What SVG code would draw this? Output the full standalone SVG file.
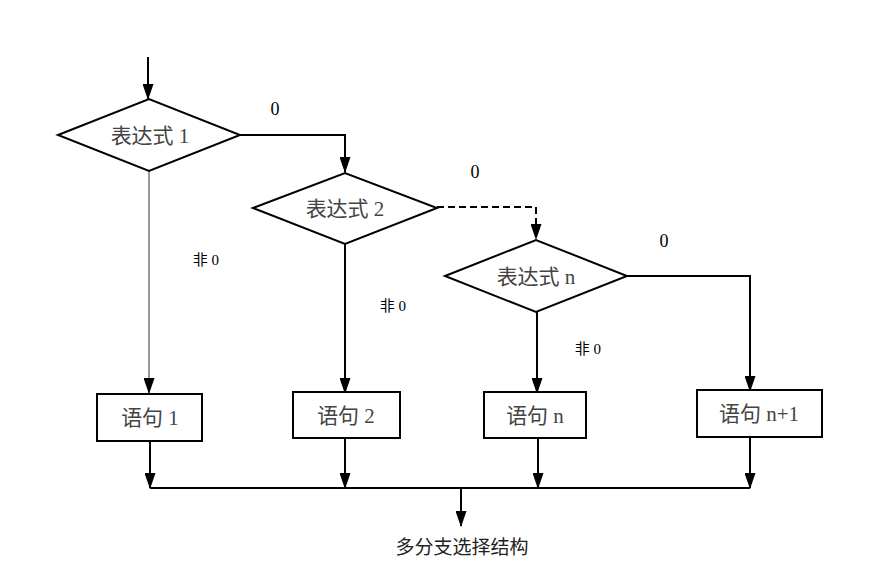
<svg xmlns="http://www.w3.org/2000/svg" width="896" height="569" viewBox="0 0 896 569">
<defs>
<marker id="ar" markerWidth="16" markerHeight="11" refX="15" refY="5.5" orient="auto" markerUnits="userSpaceOnUse">
<path d="M0,0 L16,5.5 L0,11 Z" fill="#000"/>
</marker>
<style>
.shape{fill:#fff;stroke:#000;stroke-width:2}
.ln{fill:none;stroke:#000;stroke-width:2;marker-end:url(#ar)}
.lnp{fill:none;stroke:#000;stroke-width:2}
.t{font-family:"Liberation Serif","Noto Sans CJK SC",serif;font-size:21px;fill:#444;text-anchor:middle}
.lb{font-family:"Liberation Serif","Noto Sans CJK SC",serif;font-size:18px;fill:#000;text-anchor:middle}
.lf{font-family:"Liberation Serif","Noto Sans CJK SC",serif;font-size:15px;fill:#000;text-anchor:middle}
</style>
</defs>
<rect width="896" height="569" fill="#fff"/>
<g id="connectors">
<path class="ln" d="M148,57 V99"/>
<path class="ln" d="M240,135 H345 V172"/>
<path class="ln" d="M437,207 H536 V239" stroke-dasharray="7,4"/>
<path class="ln" d="M627,276 H750 V391"/>
<path class="ln" d="M149,171 V393" style="stroke:#999"/>
<path class="ln" d="M345,244 V393"/>
<path class="ln" d="M537,312 V393"/>
<path class="ln" d="M150,441 V488"/>
<path class="ln" d="M345,438 V488"/>
<path class="ln" d="M538,438 V488"/>
<path class="ln" d="M750,437 V488"/>
<path class="lnp" d="M150,488 H750"/>
<path class="ln" d="M461,488 V526"/>
</g>
<g id="d1"><polygon class="shape" points="58,135 149,99 240,135 149,171"/><text class="t" x="150" y="143">表达式 1</text></g>
<g id="d2"><polygon class="shape" points="253,208 345,173 437,208 345,244"/><text class="t" x="345" y="216">表达式 2</text></g>
<g id="dn"><polygon class="shape" points="445,276 536,240 627,276 536,312"/><text class="t" x="536" y="284">表达式 n</text></g>
<g id="s1"><rect class="shape" x="97" y="394" width="105" height="47"/><text class="t" x="150" y="425">语句 1</text></g>
<g id="s2"><rect class="shape" x="293" y="392" width="107" height="46"/><text class="t" x="346" y="423">语句 2</text></g>
<g id="sn"><rect class="shape" x="484" y="392" width="102" height="46"/><text class="t" x="535" y="423">语句 n</text></g>
<g id="sn1"><rect class="shape" x="697" y="390" width="125" height="47"/><text class="t" x="759" y="421">语句 n+1</text></g>
<g id="labels">
<text class="lb" x="275" y="115">0</text>
<text class="lb" x="475" y="178">0</text>
<text class="lb" x="664" y="247">0</text>
<text class="lf" x="206" y="265">非 0</text>
<text class="lf" x="393" y="311">非 0</text>
<text class="lf" x="588" y="354">非 0</text>
<text class="t" x="462" y="554" style="fill:#222;font-size:19px">多分支选择结构</text>
</g>
</svg>
